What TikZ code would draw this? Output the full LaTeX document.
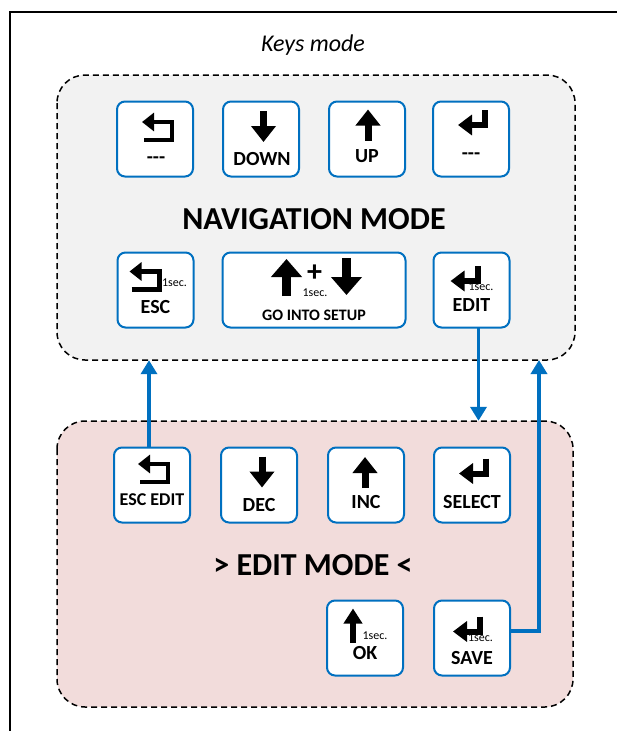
\documentclass[tikz,border=0pt]{standalone}
\usepackage{fontspec}
\setmainfont{Carlito}
\usetikzlibrary{arrows.meta, positioning}
\definecolor{keyblue}{HTML}{0070C0}
\definecolor{navgray}{HTML}{F2F2F2}
\definecolor{editpink}{HTML}{F2DCDB}
\tikzstyle{mode} = [draw=black, line width=1.5pt, dash pattern=on 6pt off 4pt,
    rounded corners=28pt]
\tikzstyle{key} = [rectangle, draw=keyblue, line width=2pt, fill=white,
    rounded corners=8pt, minimum width=76pt, minimum height=75pt, inner sep=0pt,
    outer sep=0pt]
\tikzstyle{keytext} = [inner sep=0pt, font=\fontsize{20}{20}\selectfont\bfseries]
\tikzstyle{sectext} = [inner sep=0pt, font=\fontsize{12}{12}\selectfont]
\tikzstyle{modetext} = [inner sep=0pt, font=\fontsize{32}{32}\selectfont\bfseries]
\tikzstyle{link} = [draw=keyblue, line width=3.5pt, -{Triangle[width=16pt,length=14pt]}]
\tikzset{
  downicon/.pic={\draw[line width=7pt, -{Triangle[width=24pt,length=16pt]}] (0,-15.5) -- (0,15.5);},
  upicon/.pic={\draw[line width=7pt, -{Triangle[width=24pt,length=16pt]}] (0,15.5) -- (0,-15.5);},
  okicon/.pic={\draw[line width=6pt, -{Triangle[width=18pt,length=15pt]}] (0,17) -- (0,-17);},
  bigupicon/.pic={\draw[line width=9pt, -{Triangle[width=30pt,length=18pt]}] (0,18.5) -- (0,-18.5);},
  bigdownicon/.pic={\draw[line width=9pt, -{Triangle[width=30pt,length=18pt]}] (0,-18.5) -- (0,18.5);},
  backicon/.pic={\draw[line width=4.5pt, -{Triangle[width=18pt,length=12pt]}]
      (-13,9) -- (15,9) -- (15,-9) -- (-15,-9);},
  entericon/.pic={\draw[line width=6pt, -{Triangle[width=20pt,length=14pt]}]
      (13,-12) -- (13,3) -- (-14,3);}
}

\begin{document}
\begin{tikzpicture}[x=1pt, y=-1pt]
    \useasboundingbox (0,0) rectangle (617,731);
    % frame and mode boxes
    \draw[line width=2pt] (617,12) -- (10,12) -- (10,731);
    \node[font=\fontsize{24}{24}\selectfont\itshape] (title) at (313,45) {Keys mode};
    \path[mode, fill=navgray] (57,75) rectangle (575,360);
    \node[minimum width=518pt, minimum height=285pt, inner sep=0pt] (navbox) at (316,217.5) {};
    \path[mode, fill=editpink] (57,421) rectangle (573,707);
    \node[minimum width=516pt, minimum height=286pt, inner sep=0pt] (editbox) at (315,564) {};
    \node[modetext] (navtext) at (314,219) {NAVIGATION MODE};
    \node[modetext] (edittext) at (313,565) {> EDIT MODE <};
    % navigation keys
    \node[key] (knavback) at (155,139) {};
    \node[key, right=30pt of knavback] (knavdown) {};
    \node[key, right=30pt of knavdown] (knavup) {};
    \node[key, right=28pt of knavup] (knaventer) {};
    \node[key] (knavesc) at (155.5,290) {};
    \node[key, minimum width=183pt, right=29pt of knavesc] (ksetup) {};
    \node[key, right=28pt of ksetup] (knavedit) {};
    % edit keys
    \node[key] (kesc) at (152,485) {};
    \node[key, right=31pt of kesc] (kdec) {};
    \node[key, right=31pt of kdec] (kinc) {};
    \node[key, right=30pt of kinc] (ksel) {};
    \node[key] (kok) at (365,638) {};
    \node[key, right=31pt of kok] (ksave) {};
    % icons
    \pic at ([shift={(2,-8)}]knavback.center) {backicon};
    \pic at ([shift={(2.5,-12.5)}]knavdown.center) {downicon};
    \pic at ([shift={(1,-14)}]knavup.center) {upicon};
    \pic at ([shift={(1,-17)}]knaventer.center) {entericon};
    \pic at ([shift={(-11,-9.5)}]knavesc.center) {backicon};
    \pic at ([shift={(-27.5,-12.5)}]ksetup.center) {bigupicon};
    \pic at ([shift={(32.5,-13.5)}]ksetup.center) {bigdownicon};
    \pic at ([shift={(-7,-12)}]knavedit.center) {entericon};
    \pic at ([shift={(1,-12)}]kesc.center) {backicon};
    \pic at ([shift={(3,-13)}]kdec.center) {downicon};
    \pic at ([shift={(-1,-12.5)}]kinc.center) {upicon};
    \pic at ([shift={(1,-14.5)}]ksel.center) {entericon};
    \pic at ([shift={(-12,-12.5)}]kok.center) {okicon};
    \pic at ([shift={(-5,-9.5)}]ksave.center) {entericon};
    % key texts
    \node[keytext] (tnavback) at ([shift={(1,21)}]knavback.center) {{-}{-}{-}};
    \node[keytext] (tnavdown) at ([shift={(1,20)}]knavdown.center) {DOWN};
    \node[keytext] (tnavup) at ([shift={(0,17)}]knavup.center) {UP};
    \node[keytext] (tnaventer) at ([shift={(0,17)}]knaventer.center) {{-}{-}{-}};
    \node[sectext] (snavesc) at ([shift={(19,-7)}]knavesc.center) {1sec.};
    \node[keytext] (tnavesc) at ([shift={(0,17)}]knavesc.center) {ESC};
    \node[font=\fontsize{30}{30}\selectfont\bfseries, inner sep=0pt] (splus) at ([shift={(0.5,-17)}]ksetup.center) {+};
    \node[sectext] (ssetup) at ([shift={(1,3)}]ksetup.center) {1sec.};
    \node[keytext, font=\fontsize{16}{16}\selectfont\bfseries] (tsetup) at ([shift={(0,25)}]ksetup.center) {GO INTO SETUP};
    \node[sectext] (snavedit) at ([shift={(9.5,-3)}]knavedit.center) {1sec.};
    \node[keytext] (tnavedit) at ([shift={(0,15)}]knavedit.center) {EDIT};
    \node[keytext, font=\fontsize{18}{18}\selectfont\bfseries] (tesc) at ([shift={(0,15)}]kesc.center) {ESC EDIT};
    \node[keytext] (tdec) at ([shift={(0,20)}]kdec.center) {DEC};
    \node[keytext] (tinc) at ([shift={(0,17)}]kinc.center) {INC};
    \node[keytext] (tsel) at ([shift={(0,17)}]ksel.center) {SELECT};
    \node[sectext] (sok) at ([shift={(10,-2.5)}]kok.center) {1sec.};
    \node[keytext] (tok) at ([shift={(0,15.5)}]kok.center) {OK};
    \node[sectext] (ssave) at ([shift={(8.5,0)}]ksave.center) {1sec.};
    \node[keytext] (tsave) at ([shift={(0,20.5)}]ksave.center) {SAVE};
    % links between modes
    \coordinate (saveup) at (539,360);
    \path[link] ([xshift=-3pt]kesc.north) -- ([xshift=-3pt]kesc.north |- navbox.south);
    \path[link] ([xshift=7pt]knavedit.south) -- ([xshift=7pt]knavedit.south |- editbox.north);
    \path[link] ([shift={(0,-7)}]ksave.east) -| (saveup);
\end{tikzpicture}
\end{document}
